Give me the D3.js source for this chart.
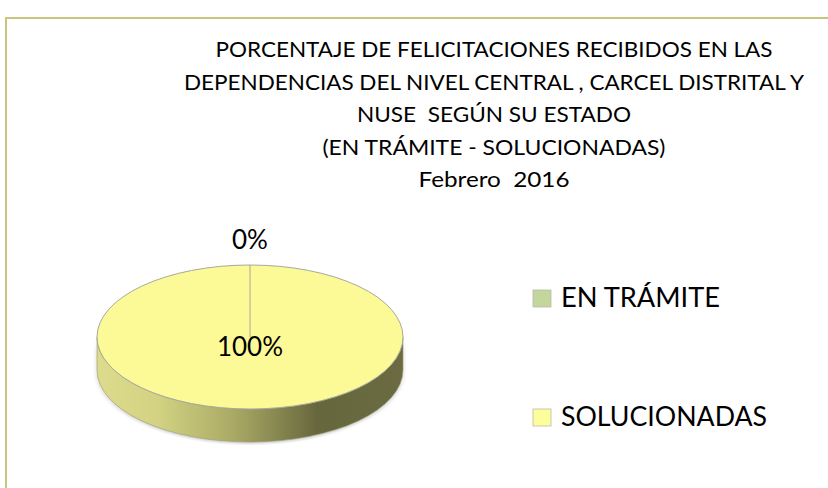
<!DOCTYPE html>
<html>
<head>
<meta charset="utf-8">
<script src="https://cdn.jsdelivr.net/npm/d3@7"></script>
<style>
  body { margin: 0; background: #fff; }
  text { font-family: Lato, "Open Sans", sans-serif; fill: #000; white-space: pre; }
</style>
</head>
<body>
<svg id="chart" width="828" height="488"></svg>
<script>
'use strict';

// chart data
var categories = ['EN TRÁMITE', 'SOLUCIONADAS'];
var values = [0, 100];
var sliceColors = ['#c3d69b', '#fbfa96'];
var legendColors = ['#c3d69b', '#fdfd9c'];
var titleLines = [
  'PORCENTAJE DE FELICITACIONES RECIBIDOS EN LAS',
  'DEPENDENCIAS DEL NIVEL CENTRAL , CARCEL DISTRITAL Y',
  'NUSE  SEGÚN SU ESTADO',
  '(EN TRÁMITE - SOLUCIONADAS)',
  'Febrero  2016'
];

var svg = d3.select('#chart');

// frame (only top and left edges show in the window)
svg.append('rect')
  .attr('x', 6).attr('y', 18)
  .attr('width', 900).attr('height', 600)
  .attr('fill', 'none')
  .attr('stroke', '#c8c57e')
  .attr('stroke-width', 2);

// title, centred lines with measured widths
var titleWidths = [557, 620, 274, 343, 151];
svg.append('g').selectAll('text')
  .data(titleLines)
  .join('text')
  .attr('x', 494)
  .attr('y', function (d, i) { return 57 + i * 32.5; })
  .attr('text-anchor', 'middle')
  .attr('font-size', 21)
  .attr('textLength', function (d, i) { return titleWidths[i]; })
  .attr('lengthAdjust', 'spacingAndGlyphs')
  .text(function (d) { return d; });

// 3d pie
var cx = 250, cy = 337, rx = 153, ry = 72, depth = 33;
var k = rx / ry;

var defs = svg.append('defs');
var grad = defs.append('linearGradient')
  .attr('id', 'side')
  .attr('gradientUnits', 'userSpaceOnUse')
  .attr('x1', -rx).attr('x2', rx).attr('y1', 0).attr('y2', 0);
[[0, '#dcdc8c'], [0.2, '#d2d282'], [0.45, '#a9a965'], [0.72, '#67673e'], [1, '#6b6b42']]
  .forEach(function (s) {
    grad.append('stop').attr('offset', s[0]).attr('stop-color', s[1]);
  });

var blur = defs.append('filter').attr('id', 'shadow')
  .attr('x', '-10%').attr('y', '-10%').attr('width', '120%').attr('height', '130%');
blur.append('feGaussianBlur').attr('stdDeviation', 2.5);

var pie = d3.pie().sort(null).value(function (d) { return d; });
var slices = pie(values);

var arc = d3.arc().innerRadius(0).outerRadius(rx);

// drawn in circle space, squashed vertically
var g = svg.append('g')
  .attr('transform', 'translate(' + cx + ',' + cy + ') scale(1,' + (ry / rx) + ')');

function sidePath(off) {
  var p = d3.path();
  var d = depth * k;
  p.moveTo(rx, 0);
  p.arc(0, 0, rx, 0, Math.PI);
  p.lineTo(-rx, d + off);
  p.arc(0, d + off, rx, Math.PI, 0, true);
  p.closePath();
  return p.toString();
}

// soft shadow under the disc
g.append('path')
  .attr('d', sidePath(4))
  .attr('fill', '#000')
  .attr('opacity', 0.18)
  .attr('filter', 'url(#shadow)');

g.append('path')
  .attr('d', sidePath(0))
  .attr('fill', 'url(#side)')
  .attr('stroke', '#9a9a70')
  .attr('stroke-width', 0.6)
  .attr('vector-effect', 'non-scaling-stroke');

g.selectAll('path.slice')
  .data(slices)
  .join('path')
  .attr('class', 'slice')
  .attr('d', arc)
  .attr('fill', function (d, i) { return sliceColors[i]; })
  .attr('stroke', '#a8a8a0')
  .attr('stroke-width', 1)
  .attr('vector-effect', 'non-scaling-stroke');

// the empty slice still shows its edge from the top to the centre
g.append('line')
  .attr('x1', 0).attr('y1', 0)
  .attr('x2', 0).attr('y2', -rx)
  .attr('stroke', '#a8a8a0')
  .attr('stroke-width', 1)
  .attr('vector-effect', 'non-scaling-stroke');

// data labels
var outer = d3.arc().innerRadius(rx + 34).outerRadius(rx + 34);
slices.forEach(function (s) {
  var pos;
  if (s.value === 0) {
    var c = outer.centroid(s);
    pos = [cx, cy + c[1] * ry / rx];
  } else {
    pos = [cx, cy + 19];
  }
  svg.append('text')
    .attr('x', pos[0]).attr('y', pos[1])
    .attr('text-anchor', 'middle')
    .attr('font-size', 26)
    .text(d3.format('.0%')(s.value / d3.sum(values)));
});

// legend
var legend = svg.append('g').selectAll('g')
  .data(categories)
  .join('g')
  .attr('transform', function (d, i) { return 'translate(533,' + (290 + i * 119) + ')'; });

legend.append('rect')
  .attr('width', 18).attr('height', 17)
  .attr('fill', function (d, i) { return legendColors[i]; })
  .attr('stroke', '#b8b8b0')
  .attr('stroke-width', 0.8);

legend.append('text')
  .attr('x', 28).attr('y', 17)
  .attr('font-size', 26)
  .attr('textLength', function (d, i) { return i ? 206 : 159; })
  .attr('lengthAdjust', 'spacingAndGlyphs')
  .text(function (d) { return d; });
</script>
</body>
</html>
